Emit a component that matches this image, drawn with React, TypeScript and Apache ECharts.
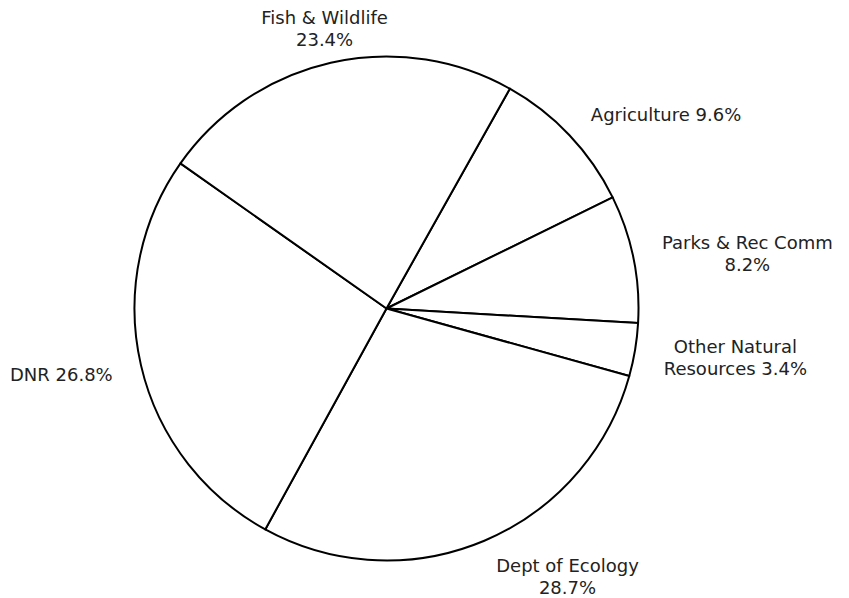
import React, { useEffect, useRef } from "react";
import * as echarts from "echarts";

const categories = [
  "Agriculture",
  "Parks & Rec Comm",
  "Other Natural\nResources",
  "Dept of Ecology",
  "DNR",
  "Fish & Wildlife",
];
const values = [9.6, 8.2, 3.4, 28.7, 26.8, 23.4];
const separators = [" ", "\n", " ", "\n", " ", "\n"];

export default function App() {
  const ref = useRef<HTMLDivElement>(null);
  useEffect(() => {
    document.body.style.margin = "0";
    const chart = echarts.init(ref.current!, null, { renderer: "svg" });
    const data = categories.map((name, i) => ({
      name,
      value: values[i],
      label: { formatter: `{b}${separators[i]}{c}%` },
    }));
    chart.setOption({
      animation: false,
      backgroundColor: "#ffffff",
      series: [
        {
          type: "pie",
          center: [386.5, 308.5],
          radius: 252,
          startAngle: 60.7,
          clockwise: true,
          avoidLabelOverlap: false,
          silent: true,
          itemStyle: { color: "#ffffff", borderColor: "#000000", borderWidth: 2 },
          label: {
            show: true,
            position: "outside",
            color: "#222222",
            fontFamily: "DejaVu Sans",
            fontSize: 18,
            lineHeight: 22,
          },
          labelLine: {
            show: true,
            length: 28,
            length2: 0,
            lineStyle: { width: 0, opacity: 0 },
          },
          labelLayout: (params: any) => {
            const pts = params.labelLinePoints;
            if (!pts || pts.length < 2) return {};
            const p0 = pts[0];
            const p1 = pts[1];
            let dx = p1[0] - p0[0];
            let dy = p1[1] - p0[1];
            const len = Math.hypot(dx, dy) || 1;
            dx /= len;
            dy /= len;
            const w = params.labelRect.width;
            const h = params.labelRect.height;
            const x = Math.abs(dx) < 0.3 ? p1[0] : p1[0] + Math.sign(dx) * (w / 2 + 1);
            const y = p1[1] + (dy * h) / 5 + 2;
            return { x, y, align: "center", verticalAlign: "middle" };
          },
          data,
        },
      ],
    });
    return () => chart.dispose();
  }, []);
  return <div ref={ref} style={{ width: 849, height: 598 }} />;
}
